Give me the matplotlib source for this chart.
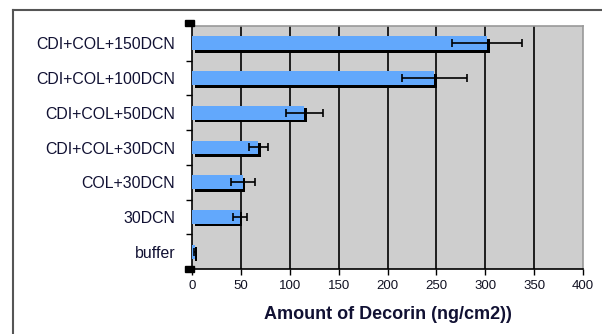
import matplotlib
matplotlib.use("Agg")
import matplotlib.pyplot as plt
import matplotlib.transforms as mtransforms
from matplotlib.patches import Rectangle
from matplotlib.lines import Line2D
import numpy as np

plt.rcParams['font.family'] = ['Liberation Sans', 'DejaVu Sans']

# data, bottom to top
categorias = ["buffer", "30DCN", "COL+30DCN", "CDI+COL+30DCN",
              "CDI+COL+50DCN", "CDI+COL+100DCN", "CDI+COL+150DCN"]
valores = [3, 49, 52, 68, 115, 248, 302]
erros = [1, 7, 12, 10, 19, 33, 36]
xticks = [0, 50, 100, 150, 200, 250, 300, 350, 400]

W, H = 602, 334
fig = plt.figure(figsize=(W / 100, H / 100), dpi=100)
fig.patch.set_facecolor('white')

x0, x1, y0, y1 = 192, 583, 26, 269
ax = fig.add_axes([x0 / W, 1 - y1 / H, (x1 - x0) / W, (y1 - y0) / H])
ax.set_facecolor('#cecece')

y = np.arange(len(categorias))

# vertical grid
for t in xticks[1:-1]:
    ax.axvline(t, color='black', lw=1.2, zorder=1)

# black shadow bars, shifted down-right
sombra = mtransforms.offset_copy(ax.transData, fig=fig, x=2.5, y=-2.5, units='dots')
ax.barh(y, valores, height=0.4, color='black', zorder=2, transform=sombra)
ax.barh(y, valores, height=0.4, color='#62a8fc', zorder=3)
ax.errorbar(valores, y, xerr=erros, fmt='none', ecolor='black', elinewidth=1.2,
            capsize=3.2, capthick=1.2, zorder=4)

ax.set_xlim(0, 400)
ax.set_ylim(-0.5, len(categorias) - 0.5)
ax.set_xticks(xticks)
ax.set_xticklabels([str(t) for t in xticks], fontsize=9.5, color='#111122')
ax.set_yticks(y)
ax.set_yticklabels(categorias, fontsize=11.4, color='#111133')
ax.set_yticks(np.arange(0.5, len(categorias) - 1), minor=True)
ax.tick_params(axis='y', which='major', length=0, pad=12)
ax.tick_params(axis='y', which='minor', length=4, width=1, color='black', direction='out')
ax.tick_params(axis='x', length=4, width=1, color='black', direction='out', pad=4)

for s in ['top', 'right']:
    ax.spines[s].set_color('#999999')
    ax.spines[s].set_linewidth(1.2)
for s in ['left', 'bottom']:
    ax.spines[s].set_color('black')
    ax.spines[s].set_linewidth(1.2)

ax.set_xlabel("Amount of Decorin (ng/cm2))", fontsize=13, fontweight='bold',
              color='#111133', labelpad=10)

# outer frame
fig.add_artist(Line2D([12.5 / W, 12.5 / W], [0, 1 - 10 / H], transform=fig.transFigure,
                      color='#555555', lw=1.5))
fig.add_artist(Line2D([12.5 / W, 1], [1 - 10 / H, 1 - 10 / H], transform=fig.transFigure,
                      color='#555555', lw=1.5))

# selection handles
for hx, hy in [(185, 20), (185, 266)]:
    fig.add_artist(Rectangle((hx / W, 1 - (hy + 6) / H), 9 / W, 6 / H,
                             transform=fig.transFigure, color='black'))

fig.savefig("out.png", dpi=100)
